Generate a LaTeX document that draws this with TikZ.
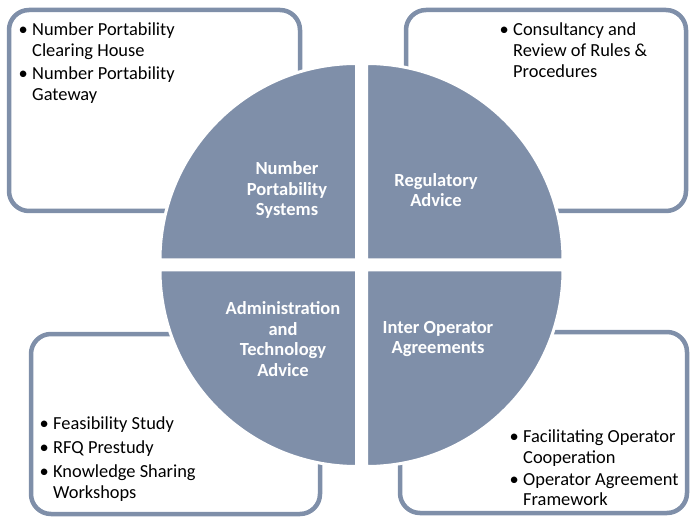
\documentclass[tikz,border=0pt]{standalone}
\usepackage{fontspec}
\setmainfont{Carlito}
\usepackage{xcolor}
\usepackage{tikz}
\usetikzlibrary{positioning}
\definecolor{slate}{RGB}{127,143,169}
\newcommand{\bul}{\llap{\textbullet\hspace{4.5pt}}}

\begin{document}
\begin{tikzpicture}[x=1pt, y=1pt]
	\tikzstyle{outerbox}=[draw=slate, line width=4.5pt, rounded corners=20pt, fill=white]
	\tikzstyle{quarter}=[fill=slate, draw=white, line width=3pt]
	\tikzstyle{item}=[anchor=north west, inner sep=0pt, align=left, text=black, font=\fontsize{18.4}{20.8}\selectfont]
	\tikzstyle{qlabel}=[align=center, text=white, font=\fontsize{18.5}{20.8}\selectfont\bfseries]

	\useasboundingbox (0,0) rectangle (690,517);

	%% boxes behind the pie
	\draw [outerbox] (9,306) rectangle (300,507);
	\draw [outerbox] (406,306) rectangle (686,507);
	\draw [outerbox] (31,3) rectangle (320,183);
	\draw [outerbox] (400,4) rectangle (687,185);

	%% pie quarters
	\draw [quarter] (356.5,257) -- (160,257) arc [start angle=180, end angle=90, radius=196.5] -- cycle;
	\draw [quarter] (366.5,257) -- (366.5,453.5) arc [start angle=90, end angle=0, radius=196.5] -- cycle;
	\draw [quarter] (356.5,247) -- (160,247) arc [start angle=180, end angle=270, radius=196.5] -- cycle;
	\draw [quarter] (366.5,247) -- (563,247) arc [start angle=0, end angle=-90, radius=196.5] -- cycle;

	\node (q0) at (287,327) [qlabel] {Number\\Portability\\Systems};
	\node (q1) at (436,327) [qlabel] {Regulatory\\Advice};
	\node (q2) at (283,178) [qlabel] {Administration\\and\\Technology\\Advice};
	\node (q3) at (438,178) [qlabel] {Inter Operator\\Agreements};

	%% bullet lists
	\node (b0a) at (32,494) [item] {\bul Number Portability\\Clearing House};
	\node (b0b) at (32,450) [item] {\bul Number Portability\\Gateway};

	\node (b1a) at (513,494) [item] {\bul Consultancy and\\Review of Rules \&\\Procedures};

	\node (b2a) at (53,100) [item] {\bul Feasibility Study};
	\node (b2b) at (53,76) [item] {\bul RFQ Prestudy};
	\node (b2c) at (53,52) [item] {\bul Knowledge Sharing\\Workshops};

	\node (b3a) at (523,87) [item] {\bul Facilitating Operator\\Cooperation};
	\node (b3b) at (523,44) [item] {\bul Operator Agreement\\Framework};
\end{tikzpicture}
\end{document}
